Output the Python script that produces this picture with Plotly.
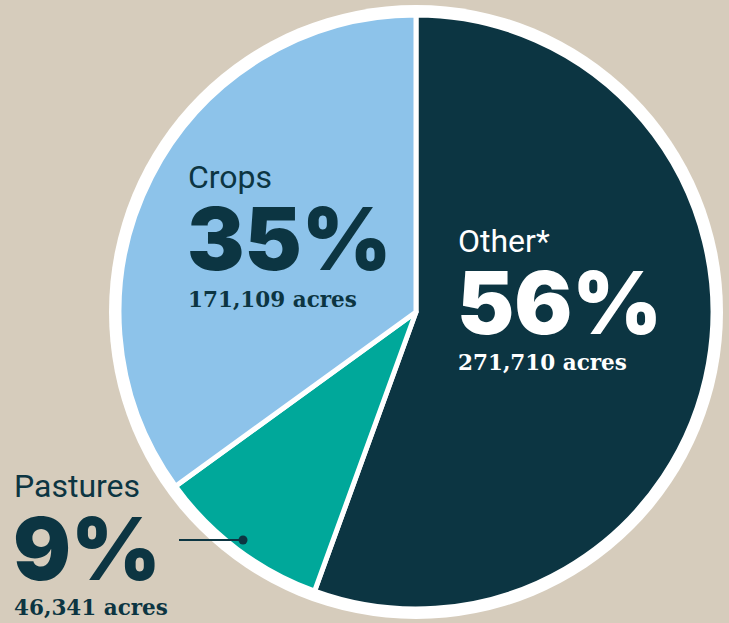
import plotly.graph_objects as go

# Land use breakdown
categories = ["Other*", "Pastures", "Crops"]
acres = [271710, 46341, 171109]
pct_labels = ["56%", "9%", "35%"]
acre_labels = ["271,710 acres", "46,341 acres", "171,109 acres"]

W, H = 729, 623
BG = "#d6ccbc"
DARK = "#0c3542"
TEAL = "#00a89a"
LIGHT = "#8dc3ea"
slice_colors = [DARK, TEAL, LIGHT]

cx, cy, r = 416, 312, 297
ring = 10


def px(x):
    return x / W


def py(y):
    return 1 - y / H


fig = go.Figure()
fig.add_trace(go.Pie(
    labels=categories,
    values=acres,
    sort=False,
    direction="clockwise",
    rotation=0,
    textinfo="none",
    marker=dict(colors=slice_colors, line=dict(color="white", width=5)),
    domain=dict(x=[px(cx - r), px(cx + r)], y=[py(cy + r), py(cy - r)]),
    showlegend=False,
))

shapes = [
    # white ring around the pie
    dict(type="circle", xref="paper", yref="paper", layer="below",
         x0=px(cx - r - ring), x1=px(cx + r + ring),
         y0=py(cy + r + ring), y1=py(cy - r - ring),
         fillcolor="white", line=dict(width=0)),
    # leader for the pastures slice
    dict(type="line", xref="paper", yref="paper",
         x0=px(179), x1=px(243), y0=py(540), y1=py(540),
         line=dict(color=DARK, width=2)),
    dict(type="circle", xref="paper", yref="paper",
         x0=px(238.5), x1=px(247.5), y0=py(544.5), y1=py(535.5),
         fillcolor=DARK, line=dict(width=0)),
]

NAME_FONT = "Roboto"
PCT_FONT = "Inter"
ACRE_FONT = "DejaVu Serif"

# label blocks: (x, name_y, pct_y, acre_y, text colour)
blocks = {
    "Other*": (456, 241, 303, 362, "white"),
    "Pastures": (12, 486, 549, 607, DARK),
    "Crops": (186, 177, 239, 299, DARK),
}

annotations = []
for cat, pct, acr in zip(categories, pct_labels, acre_labels):
    x, ny, pyy, ay, col = blocks[cat]
    annotations.append(dict(x=px(x), y=py(ny), text=cat, showarrow=False,
                            xref="paper", yref="paper", xanchor="left", yanchor="middle",
                            font=dict(family=NAME_FONT, size=32, color=col)))
    annotations.append(dict(x=px(x - 1), y=py(pyy), text=pct, showarrow=False,
                            xref="paper", yref="paper", xanchor="left", yanchor="middle",
                            font=dict(family=PCT_FONT, size=86, color=col, weight=900)))
    annotations.append(dict(x=px(x), y=py(ay), text=acr, showarrow=False,
                            xref="paper", yref="paper", xanchor="left", yanchor="middle",
                            font=dict(family=ACRE_FONT, size=21.5, color=col, weight="bold")))

fig.update_layout(
    width=W, height=H,
    margin=dict(l=0, r=0, t=0, b=0),
    paper_bgcolor=BG,
    plot_bgcolor=BG,
    shapes=shapes,
    annotations=annotations,
)

fig.write_html("out.html")
